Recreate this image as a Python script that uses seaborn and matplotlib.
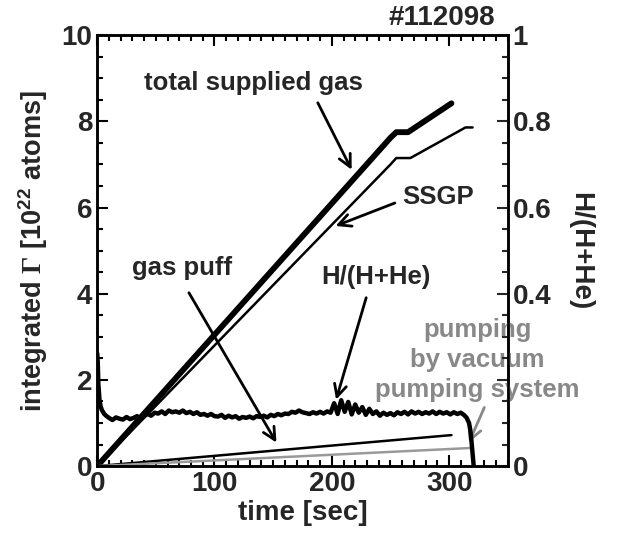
import numpy as np
import pandas as pd
import matplotlib
matplotlib.use("Agg")
import matplotlib.pyplot as plt
import seaborn as sns
from matplotlib.ticker import MultipleLocator

# Datos (tiempo en s, Gamma integrado en 1e22 atomos)
t_total = [0, 250, 255, 265, 302]
total_gas = [0, 7.62, 7.75, 7.75, 8.42]

t_ssgp = [0, 250, 255, 267, 314, 320]
ssgp = [0, 7.0, 7.15, 7.15, 7.86, 7.86]

t_puff = [0, 302]
gas_puff = [0, 0.72]

t_pump = [0, 318]
pumping = [0, 0.42]

# H/(H+He) (eje derecho)
t_ratio = [0, 0.5, 1, 2, 3, 4, 6, 8,
           10, 13, 16, 19, 22, 25, 28, 31, 34, 37, 40,
           43, 46, 49, 52, 55, 58, 61, 64, 67, 70,
           73, 76, 79, 82, 85, 88, 91, 94, 97, 100,
           103, 106, 109, 112, 115, 118, 121, 124, 127, 130,
           133, 136, 139, 142, 145, 148, 151, 154, 157, 160,
           163, 166, 169, 172, 175, 178, 181, 184, 187, 190,
           193, 196, 199, 202, 205, 208, 211, 214, 217, 220,
           223, 226, 229, 232, 235, 238, 241, 244, 247, 250,
           253, 256, 259, 262, 265, 268, 271, 274, 277, 280,
           283, 286, 289, 292, 295, 298, 301, 304, 307, 310,
           313, 315, 317, 318, 319, 320, 321]
h_ratio = [0.262, 0.24, 0.19, 0.152, 0.138, 0.130, 0.121, 0.116,
           0.112, 0.107, 0.113, 0.110, 0.108, 0.114, 0.109, 0.112, 0.116, 0.110, 0.117,
           0.121, 0.117, 0.124, 0.122, 0.127, 0.121, 0.129, 0.125, 0.127, 0.124,
           0.129, 0.123, 0.126, 0.121, 0.125, 0.119, 0.121, 0.117, 0.121, 0.116,
           0.115, 0.119, 0.112, 0.117, 0.113, 0.116, 0.110, 0.114, 0.112, 0.115,
           0.111, 0.116, 0.114, 0.117, 0.113, 0.119, 0.116, 0.121, 0.118, 0.122,
           0.121, 0.126, 0.124, 0.129, 0.125, 0.123, 0.121, 0.125, 0.122, 0.126,
           0.122, 0.127, 0.124, 0.146, 0.121, 0.153, 0.126, 0.149, 0.120, 0.143,
           0.124, 0.137, 0.119, 0.133, 0.121, 0.127, 0.117, 0.124, 0.119, 0.123,
           0.118, 0.125, 0.121, 0.126, 0.120, 0.127, 0.122, 0.126, 0.121, 0.125,
           0.122, 0.127, 0.121, 0.126, 0.122, 0.125, 0.120, 0.125, 0.121, 0.124,
           0.118, 0.112, 0.100, 0.085, 0.060, 0.030, 0.0]

sns.set_theme(style="ticks")
plt.rcParams["font.family"] = ["Liberation Sans", "DejaVu Sans"]
plt.rcParams["font.weight"] = "bold"
plt.rcParams["mathtext.fontset"] = "custom"
plt.rcParams["mathtext.rm"] = "Liberation Serif"
plt.rcParams["mathtext.sf"] = "Liberation Sans:bold"

fs = 20      # ejes
fa = 18.5    # anotaciones
fig = plt.figure(figsize=(6.23, 5.42), dpi=100)
ax = fig.add_axes([0.156, 0.140, 0.659, 0.795])
ax2 = ax.twinx()

sns.lineplot(x=t_total, y=total_gas, ax=ax, color="black", lw=4.2, sort=False)
sns.lineplot(x=t_ssgp, y=ssgp, ax=ax, color="black", lw=1.8, sort=False)
sns.lineplot(x=t_puff, y=gas_puff, ax=ax, color="black", lw=1.8, sort=False)
sns.lineplot(x=t_pump, y=pumping, ax=ax, color="#999999", lw=1.8, sort=False)
sns.lineplot(x=t_ratio, y=h_ratio, ax=ax2, color="black", lw=3.2, sort=False)

ax.set_xlim(0, 350)
ax.set_ylim(0, 10)
ax2.set_ylim(0, 1)

ax.xaxis.set_major_locator(MultipleLocator(100))
ax.xaxis.set_minor_locator(MultipleLocator(10))
ax.yaxis.set_major_locator(MultipleLocator(2))
ax.yaxis.set_minor_locator(MultipleLocator(0.5))
ax2.yaxis.set_minor_locator(MultipleLocator(0.05))
ax2.set_yticks([0, 0.2, 0.4, 0.6, 0.8, 1.0])
ax2.set_yticklabels(["0", "", "0.4", "0.6", "0.8", "1"])

ax.tick_params(axis="both", which="both", direction="in", top=True,
               labelsize=fs, width=1.5, color="black")
ax.tick_params(axis="both", which="major", length=8)
ax.tick_params(axis="both", which="minor", length=4)
ax.tick_params(axis="y", right=False)
ax2.tick_params(axis="y", which="both", direction="in", labelsize=fs, width=1.5)
ax2.tick_params(axis="y", which="major", length=8)
ax2.tick_params(axis="y", which="minor", length=4)

for a in (ax, ax2):
    for s in a.spines.values():
        s.set_linewidth(1.8)
        s.set_color("black")

ax.set_xlabel("time [sec]", fontsize=fs, fontweight="bold", labelpad=2)
ax.set_ylabel(r"integrated $\Gamma$ [10$^{\mathsf{22}}$ atoms]", fontsize=19.5,
              fontweight="bold", labelpad=8)
ax2.set_ylabel("H/(H+He)", fontsize=fs, fontweight="bold", rotation=270, labelpad=30)

arrow = dict(arrowstyle="->", color="black", lw=2, mutation_scale=22)
ax.text(133, 8.89, "total supplied gas", fontsize=fa, fontweight="bold",
        ha="center", va="center")
ax.annotate("", xy=(218, 6.82), xytext=(187, 8.49), arrowprops=arrow)
ax.text(291, 6.24, "SSGP", fontsize=fa, fontweight="bold", ha="center", va="center")
ax.annotate("", xy=(201, 5.55), xytext=(256, 6.13), arrowprops=arrow)
ax.text(72, 4.59, "gas puff", fontsize=fa, fontweight="bold", ha="center", va="center")
ax.annotate("", xy=(154, 0.49), xytext=(77, 4.08), arrowprops=arrow)
ax.text(238, 4.39, "H/(H+He)", fontsize=fa, fontweight="bold", ha="center", va="center")
ax.annotate("", xy=(203, 1.48), xytext=(230, 3.97), arrowprops=arrow)

ax.text(324, 2.46, "pumping\nby vacuum\npumping system", fontsize=fa,
        fontweight="bold", color="#888888", ha="center", va="center",
        linespacing=1.32, clip_on=False)
gray_arrow = dict(arrowstyle="->", color="#888888", lw=2, mutation_scale=22)
ax.annotate("", xy=(316, 0.49), xytext=(331, 1.42), arrowprops=gray_arrow)

fig.text(442 / 623, 1 - 18 / 542, "#112098", fontsize=fs, fontweight="bold",
         ha="center", va="center")

fig.savefig("out.png", dpi=100)
